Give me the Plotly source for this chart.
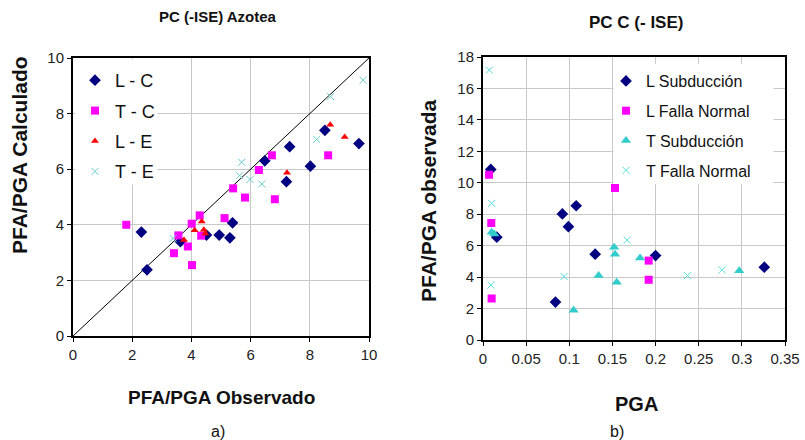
import plotly.graph_objects as go

# ---- Chart a) PC (-ISE) Azotea ----
lc_x = [2.31, 2.50, 3.63, 4.51, 4.94, 5.30, 5.39, 6.48, 7.32, 7.21, 8.02, 8.51, 9.66]
lc_y = [3.74, 2.38, 3.39, 3.63, 3.63, 3.53, 4.07, 6.30, 6.81, 5.55, 6.11, 7.40, 6.92]

tc_x = [1.80, 3.41, 3.56, 3.88, 4.02, 4.01, 4.28, 4.33, 5.12, 5.41, 5.81, 6.28, 6.72, 6.82, 8.62]
tc_y = [4.00, 2.98, 3.62, 3.22, 2.55, 4.04, 4.34, 3.61, 4.24, 5.31, 4.98, 5.97, 6.50, 4.92, 6.50]

le_x = [3.75, 4.11, 4.35, 4.42, 4.47, 7.23, 8.69, 9.18]
le_y = [3.45, 3.80, 4.12, 3.82, 3.69, 5.87, 7.60, 7.16]

te_x = [3.38, 5.63, 5.70, 5.98, 6.38, 8.23, 8.70, 9.80]
te_y = [3.51, 5.77, 6.25, 5.63, 5.47, 7.07, 8.61, 9.20]

diag = [0, 10]

# ---- Chart b) PC C (- ISE) ----
ls_x = [0.009, 0.016, 0.084, 0.092, 0.099, 0.108, 0.130, 0.200, 0.326]
ls_y = [10.85, 6.54, 2.41, 8.02, 7.21, 8.54, 5.46, 5.37, 4.63]

lf_x = [0.007, 0.0096, 0.010, 0.153, 0.192, 0.192]
lf_y = [10.51, 7.44, 2.64, 9.67, 5.05, 3.83]

ts_x = [0.010, 0.013, 0.105, 0.134, 0.152, 0.153, 0.155, 0.182, 0.297]
ts_y = [6.85, 6.75, 1.90, 4.10, 5.90, 5.46, 3.68, 5.22, 4.40]

tf_x = [0.0073, 0.010, 0.0092, 0.094, 0.167, 0.237, 0.277]
tf_y = [17.17, 8.69, 3.49, 4.04, 6.35, 4.10, 4.46]

W, H = 805, 440
def px(x): return x / W
def py(y): return 1 - y / H

NAVY = "#000080"
MAG = "#FF00FF"
RED = "#FF0000"
CYAN = "#66CCCC"
TURQ = "#33CCCC"
LCYAN = "#55DDDD"
FONT = "Liberation Sans, Arial, sans-serif"

fig = go.Figure()

# diagonal
fig.add_trace(go.Scatter(x=diag, y=diag, mode="lines", line=dict(color="black", width=1),
                         showlegend=False, hoverinfo="skip", xaxis="x", yaxis="y"))

fig.add_trace(go.Scatter(x=lc_x, y=lc_y, mode="markers", name="L - C", legendgroup="a1",
                         marker=dict(symbol="diamond", size=9, color=NAVY), xaxis="x", yaxis="y", legend="legend"))
fig.add_trace(go.Scatter(x=tc_x, y=tc_y, mode="markers", name="T - C", legendgroup="a2",
                         marker=dict(symbol="square", size=8, color=MAG), xaxis="x", yaxis="y", legend="legend"))
fig.add_trace(go.Scatter(x=le_x, y=le_y, mode="markers", name="L - E", legendgroup="a3",
                         marker=dict(symbol="triangle-up", size=7, color=RED), xaxis="x", yaxis="y", legend="legend"))
fig.add_trace(go.Scatter(x=te_x, y=te_y, mode="markers", name="T - E", legendgroup="a4",
                         marker=dict(symbol="x-thin", size=7, line=dict(color=CYAN, width=1), color=CYAN),
                         xaxis="x", yaxis="y", legend="legend"))

fig.add_trace(go.Scatter(x=ls_x, y=ls_y, mode="markers", name="L Subducción", legendgroup="b1",
                         marker=dict(symbol="diamond", size=9, color=NAVY), xaxis="x2", yaxis="y2", legend="legend2"))
fig.add_trace(go.Scatter(x=lf_x, y=lf_y, mode="markers", name="L Falla Normal", legendgroup="b2",
                         marker=dict(symbol="square", size=8, color=MAG), xaxis="x2", yaxis="y2", legend="legend2"))
fig.add_trace(go.Scatter(x=ts_x, y=ts_y, mode="markers", name="T Subducción", legendgroup="b3",
                         marker=dict(symbol="triangle-up", size=9, color=TURQ), xaxis="x2", yaxis="y2", legend="legend2"))
fig.add_trace(go.Scatter(x=tf_x, y=tf_y, mode="markers", name="T Falla Normal", legendgroup="b4",
                         marker=dict(symbol="x-thin", size=7, line=dict(color=LCYAN, width=1), color=LCYAN),
                         xaxis="x2", yaxis="y2", legend="legend2"))

axis_common = dict(showline=True, linecolor="black", linewidth=2, mirror=True,
                   showgrid=True, gridcolor="#C8C8C8", gridwidth=1, zeroline=False,
                   ticks="outside", ticklen=4, tickcolor="black", tickwidth=1,
                   tickfont=dict(family=FONT, size=15, color="#222222"))

fig.update_layout(
    width=W, height=H, margin=dict(l=0, r=0, t=0, b=0, pad=0, autoexpand=False),
    paper_bgcolor="white", plot_bgcolor="white",
    font=dict(family=FONT, color="#111111"),
    xaxis=dict(domain=[px(73), px(369)], range=[0, 10], tick0=0, dtick=2, anchor="y", **axis_common),
    yaxis=dict(domain=[py(336), py(58)], range=[0, 10], tick0=0, dtick=2, anchor="x", **axis_common),
    xaxis2=dict(domain=[px(483), px(785)], range=[0, 0.35], tick0=0, dtick=0.05, anchor="y2", **axis_common),
    yaxis2=dict(domain=[py(340), py(57)], range=[0, 18], tick0=0, dtick=2, anchor="x2", **axis_common),
    legend=dict(x=px(75), y=py(62), xanchor="left", yanchor="top", bgcolor="rgba(0,0,0,0)",
                font=dict(family=FONT, size=18, color="#111111"), tracegroupgap=4,
                itemsizing="trace"),
    legend2=dict(x=px(606), y=py(64), xanchor="left", yanchor="top", bgcolor="rgba(0,0,0,0)",
                 font=dict(family=FONT, size=16, color="#111111"), tracegroupgap=6,
                 itemsizing="trace"),
    showlegend=True,
)

# white legend backgrounds drawn between gridlines and data (hide gridlines like the original)
fig.add_shape(type="rect", xref="x", yref="y", x0=0.08, x1=2.85, y0=5.45, y1=9.95,
              fillcolor="white", line=dict(width=0), layer="between")
fig.add_shape(type="rect", xref="x2", yref="y2", x0=0.1512, x1=0.3367, y0=9.9, y1=17.55,
              fillcolor="white", line=dict(width=0), layer="between")

ann = [
    dict(text="<b>PC (-ISE) Azotea</b>", x=px(218), y=py(17), size=15, angle=0),
    dict(text="<b>PC C (- ISE)</b>", x=px(636), y=py(22), size=17, angle=0),
    dict(text="<b>PFA/PGA Observado</b>", x=px(221), y=py(397), size=19, angle=0),
    dict(text="<b>PGA</b>", x=px(636), y=py(404), size=20, angle=0),
    dict(text="<b>PFA/PGA Calculado</b>", x=px(19), y=py(155), size=21, angle=-90),
    dict(text="<b>PFA/PGA observada</b>", x=px(428), y=py(200), size=21, angle=-90),
    dict(text="a)", x=px(218), y=py(431), size=16, angle=0),
    dict(text="b)", x=px(617), y=py(431), size=16, angle=0),
]
for a in ann:
    fig.add_annotation(text=a["text"], x=a["x"], y=a["y"], xref="paper", yref="paper",
                       xanchor="center", yanchor="middle", showarrow=False, textangle=a["angle"],
                       font=dict(family=FONT, size=a["size"], color="#111111"))

fig.write_html("out.html", config={"displayModeBar": False},
               post_script="document.body.style.margin='0';document.body.style.overflow='hidden';")
